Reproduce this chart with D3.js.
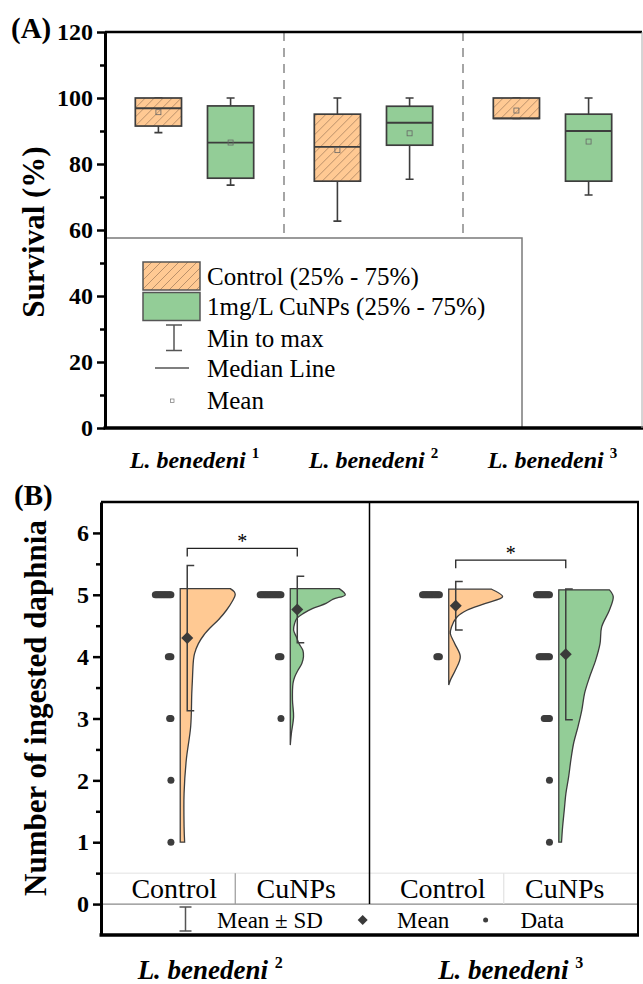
<!DOCTYPE html>
<html>
<head>
<meta charset="utf-8">
<script src="https://cdn.jsdelivr.net/npm/d3@7"></script>
<style>
  body { margin: 0; background: #fff; }
  svg { font-family: "Liberation Serif", "Times New Roman", serif; }
</style>
</head>
<body>
<script>
// ---------- Panel A: survival box plots ----------
var groupsA = ["1", "2", "3"];          // L. benedeni 1..3
var treatA = ["Control", "CuNPs"];

var ctrlMin  = [89.5, 62.7, 93.8];
var ctrlQ1   = [91.5, 74.8, 93.8];
var ctrlMed  = [96.9, 85.2, 93.8];
var ctrlQ3   = [100, 95.1, 100];
var ctrlMax  = [100, 100, 100];
var ctrlMean = [95.7, 84.2, 96.2];

var cuMin  = [73.6, 75.4, 70.6];
var cuQ1   = [75.7, 85.7, 74.8];
var cuMed  = [86.5, 92.5, 90.0];
var cuQ3   = [97.6, 97.5, 95.1];
var cuMax  = [100, 100, 100];
var cuMean = [86.5, 89.3, 86.8];

var ticksA = [0, 20, 40, 60, 80, 100, 120];
var legendA = ["Control (25% - 75%)", "1mg/L CuNPs (25% - 75%)", "Min to max", "Median Line", "Mean"];

// ---------- Panel B: ingested daphnia ----------
var groupsB = ["2", "3"];
var treatB = ["Control", "CuNPs"];
var scoreValues = [5, 4, 3, 2, 1];
// number of fish at each score (5,4,3,2,1)
var ctrl2Counts = [13, 3, 2, 1, 1];
var cu2Counts   = [17, 3, 1, 0, 0];
var ctrl3Counts = [14, 3, 0, 0, 0];
var cu3Counts   = [11, 9, 5, 1, 1];

// half-violin outlines (score level, relative density)
var ctrl2Lv   = [5.1, 5.05, 5.0, 4.9, 4.75, 4.6, 4.48, 4.35, 4.21, 4.05, 3.94, 3.6, 3.41, 2.87, 2.33, 1.79, 1.25, 1.0];
var ctrl2Dens = [0.91, 0.98, 1.0, 0.95, 0.84, 0.7, 0.56, 0.43, 0.33, 0.26, 0.24, 0.22, 0.21, 0.19, 0.11, 0.07, 0.07, 0.08];
var cu2Lv   = [5.1, 5.0, 4.93, 4.86, 4.78, 4.7, 4.62, 4.54, 4.43, 4.32, 4.21, 4.1, 4.0, 3.89, 3.78, 3.67, 3.57, 3.3, 3.03, 2.76, 2.57];
var cu2Dens = [0.89, 1.0, 0.78, 0.65, 0.41, 0.24, 0.12, 0.08, 0.06, 0.11, 0.16, 0.23, 0.24, 0.21, 0.14, 0.08, 0.05, 0.04, 0.06, 0.02, 0.0];
var ctrl3Lv   = [5.09, 4.97, 4.86, 4.75, 4.64, 4.48, 4.37, 4.21, 4.0, 3.78, 3.62, 3.54];
var ctrl3Dens = [0.78, 0.98, 0.67, 0.33, 0.15, 0.05, 0.03, 0.11, 0.21, 0.12, 0.03, 0.0];
var cu3Lv   = [5.08, 4.97, 4.75, 4.48, 4.21, 3.94, 3.67, 3.41, 3.14, 2.87, 2.6, 2.33, 2.06, 1.79, 1.52, 1.25, 1.0];
var cu3Dens = [0.92, 0.99, 0.92, 0.78, 0.75, 0.67, 0.56, 0.47, 0.42, 0.35, 0.27, 0.22, 0.18, 0.13, 0.10, 0.07, 0.05];

var sigLevel = [5.75, 5.56];
var ticksB = [0, 1, 2, 3, 4, 5, 6];

var orange = "#FFC993", green = "#93CD97", edge = "#3d3d3d";

var svg = d3.select("body").append("svg")
  .attr("width", 643)
  .attr("height", 984);

var defs = svg.append("defs");
var pat = defs.append("pattern")
  .attr("id", "hatch")
  .attr("patternUnits", "userSpaceOnUse")
  .attr("width", 9).attr("height", 9);
pat.append("rect").attr("width", 9).attr("height", 9).attr("fill", orange);
pat.append("path")
  .attr("d", "M-1,10 L10,-1 M-5,5 L5,-5 M4,14 L14,4")
  .attr("stroke", "#8c6a4e").attr("stroke-width", 0.8).attr("opacity", 0.75);

// ================= PANEL A =================
var aLeft = 105, aRight = 642, aTop = 32, aBottom = 428;
var yA = d3.scaleLinear().domain([0, 120]).range([aBottom, aTop]);
var xA = d3.scaleBand().domain(groupsA).range([aLeft, aRight]);
var xInA = d3.scaleBand().domain(treatA).range([0, xA.bandwidth()])
  .paddingInner(0.36).paddingOuter(0.42);

var gA = svg.append("g");

// dashed separators
groupsA.slice(1).forEach(function(g) {
  gA.append("line")
    .attr("x1", xA(g)).attr("x2", xA(g))
    .attr("y1", aTop).attr("y2", aBottom)
    .attr("stroke", "#888").attr("stroke-width", 1.5)
    .attr("stroke-dasharray", "9,7");
});

var boxes = [];
groupsA.forEach(function(g, i) {
  boxes.push({g: g, t: "Control", min: ctrlMin[i], q1: ctrlQ1[i], med: ctrlMed[i], q3: ctrlQ3[i], max: ctrlMax[i], mean: ctrlMean[i]});
  boxes.push({g: g, t: "CuNPs", min: cuMin[i], q1: cuQ1[i], med: cuMed[i], q3: cuQ3[i], max: cuMax[i], mean: cuMean[i]});
});

var bw = xInA.bandwidth();
var boxG = gA.selectAll(".box").data(boxes).enter().append("g")
  .attr("class", "box")
  .attr("transform", d => `translate(${xA(d.g) + xInA(d.t)}, 0)`);

// whiskers
boxG.append("path")
  .attr("d", d => `M${bw/2},${yA(d.q3)}V${yA(d.max)}M${bw/2 - 4},${yA(d.max)}H${bw/2 + 4}` +
                  `M${bw/2},${yA(d.q1)}V${yA(d.min)}M${bw/2 - 4},${yA(d.min)}H${bw/2 + 4}`)
  .attr("stroke", edge).attr("stroke-width", 1.6).attr("fill", "none");

boxG.append("rect")
  .attr("x", 0).attr("width", bw)
  .attr("y", d => yA(d.q3))
  .attr("height", d => yA(d.q1) - yA(d.q3))
  .attr("fill", d => d.t == "Control" ? "url(#hatch)" : green)
  .attr("stroke", edge).attr("stroke-width", 1.7);

boxG.append("line")
  .attr("x1", 0).attr("x2", bw)
  .attr("y1", d => yA(d.med)).attr("y2", d => yA(d.med))
  .attr("stroke", edge).attr("stroke-width", 1.8);

boxG.append("rect")
  .attr("x", bw/2 - 2.5).attr("width", 5)
  .attr("y", d => yA(d.mean) - 2.5).attr("height", 5)
  .attr("fill", "none").attr("stroke", "#666").attr("stroke-width", 0.8);

// legend A
var lg = gA.append("g");
lg.append("rect")
  .attr("x", aLeft).attr("y", 238)
  .attr("width", 522 - aLeft).attr("height", aBottom - 238)
  .attr("fill", "#fff").attr("stroke", "#7a7a7a").attr("stroke-width", 1.5);
var legY = [276, 306, 338, 368, 400];
lg.append("rect").attr("x", 143).attr("y", 262).attr("width", 57).attr("height", 28)
  .attr("fill", "url(#hatch)").attr("stroke", "#555").attr("stroke-width", 1.5);
lg.append("rect").attr("x", 143).attr("y", 292.5).attr("width", 57).attr("height", 28)
  .attr("fill", green).attr("stroke", "#555").attr("stroke-width", 1.5);
lg.append("path").attr("d", "M166,325H182M174,325V350.5M166,350.5H182")
  .attr("stroke", "#555").attr("stroke-width", 1.5).attr("fill", "none");
lg.append("line").attr("x1", 155).attr("x2", 189).attr("y1", 368).attr("y2", 368)
  .attr("stroke", "#555").attr("stroke-width", 1.5);
lg.append("rect").attr("x", 170.5).attr("y", 399).attr("width", 3.5).attr("height", 3.5)
  .attr("fill", "none").attr("stroke", "#777").attr("stroke-width", 0.7);
lg.selectAll(".lt").data(legendA).enter().append("text")
  .attr("x", 207).attr("y", (d, i) => legY[i] + 8.5)
  .attr("font-size", 25)
  .text(d => d);

// axis A
var axA = gA.append("g").attr("transform", `translate(${aLeft},0)`)
  .call(d3.axisLeft(yA).tickValues(ticksA).tickSize(8).tickSizeOuter(0).tickPadding(4));
gA.append("g").attr("transform", `translate(${aLeft},0)`)
  .call(d3.axisLeft(yA).tickValues([10, 30, 50, 70, 90, 110]).tickSize(5).tickSizeOuter(0).tickFormat(""))
  .select(".domain").remove();
axA.select(".domain").attr("stroke-width", 3);
axA.selectAll(".tick text").attr("font-size", 24).attr("font-weight", "bold")
  .attr("font-family", "Liberation Serif").attr("fill", "#000");
gA.selectAll(".tick line").attr("stroke-width", 2.5);

// frame A
gA.append("line").attr("x1", aLeft).attr("x2", aRight).attr("y1", aTop).attr("y2", aTop)
  .attr("stroke", "#000").attr("stroke-width", 2.5);
gA.append("line").attr("x1", aLeft - 1.5).attr("x2", 643).attr("y1", aBottom).attr("y2", aBottom)
  .attr("stroke", "#000").attr("stroke-width", 3.5);
gA.append("line").attr("x1", aRight).attr("x2", aRight).attr("y1", aTop).attr("y2", aBottom)
  .attr("stroke", "#aaa").attr("stroke-width", 1);

// category labels A
groupsA.forEach(function(g) {
  var t = gA.append("text")
    .attr("x", xA(g) + xA.bandwidth() / 2).attr("y", 468)
    .attr("text-anchor", "middle")
    .attr("font-size", 24).attr("font-weight", "bold").attr("font-style", "italic");
  t.append("tspan").text("L. benedeni ");
  t.append("tspan").attr("dy", -10).attr("font-size", 15).attr("font-style", "normal").text(g);
});

svg.append("text").attr("x", 11).attr("y", 38)
  .attr("font-size", 29).attr("font-weight", "bold").text("(A)");
svg.append("text")
  .attr("transform", "translate(44,232) rotate(-90)")
  .attr("text-anchor", "middle")
  .attr("font-size", 31).attr("font-weight", "bold")
  .text("Survival (%)");

// ================= PANEL B =================
var bLeft = 101, bRight = 638, bTop = 502, bBottom = 935;
var yB = d3.scaleLinear().domain([-0.5, 6.5]).range([bBottom, bTop]);
var xB = d3.scaleBand().domain(groupsB).range([bLeft, bRight]);
var xInB = d3.scalePoint().domain(treatB).range([0, xB.bandwidth()]).padding(0.72);
var xLabB = d3.scalePoint().domain(treatB).range([0, xB.bandwidth()]).padding(0.6);
var wScale = d3.scaleLinear().domain([0, 1]).range([0, 55]);

var gB = svg.append("g");

// label band lines
gB.append("line").attr("x1", bLeft).attr("x2", bRight).attr("y1", yB(0.5)).attr("y2", yB(0.5))
  .attr("stroke", "#e2e2e2").attr("stroke-width", 1);
gB.append("line").attr("x1", bLeft).attr("x2", bRight).attr("y1", yB(0)).attr("y2", yB(0))
  .attr("stroke", "#8a8a8a").attr("stroke-width", 1.2);
groupsB.forEach(function(g, i) {
  gB.append("line")
    .attr("x1", xB(g) + xB.bandwidth() / 2).attr("x2", xB(g) + xB.bandwidth() / 2)
    .attr("y1", yB(0.5)).attr("y2", yB(0))
    .attr("stroke", i == 0 ? "#999" : "#e2e2e2").attr("stroke-width", 1.2);
  treatB.forEach(function(t) {
    gB.append("text")
      .attr("x", xB(g) + xLabB(t)).attr("y", 898)
      .attr("text-anchor", "middle").attr("font-size", 28)
      .text(t);
  });
});
gB.append("line").attr("x1", xB("3")).attr("x2", xB("3")).attr("y1", bTop).attr("y2", yB(0))
  .attr("stroke", "#000").attr("stroke-width", 1.5);

var violins = [
  {g: "2", t: "Control", counts: ctrl2Counts, lv: ctrl2Lv, dens: ctrl2Dens, fill: orange},
  {g: "2", t: "CuNPs", counts: cu2Counts, lv: cu2Lv, dens: cu2Dens, fill: green},
  {g: "3", t: "Control", counts: ctrl3Counts, lv: ctrl3Lv, dens: ctrl3Dens, fill: orange},
  {g: "3", t: "CuNPs", counts: cu3Counts, lv: cu3Lv, dens: cu3Dens, fill: green}
];

var area = d3.area()
  .curve(d3.curveCatmullRom)
  .y(d => yB(d[0]))
  .x0(0)
  .x1(d => wScale(d[1]));

violins.forEach(function(v) {
  var base = xB(v.g) + xInB(v.t);
  var raw = [];
  scoreValues.forEach(function(s, i) { for (var k = 0; k < v.counts[i]; k++) raw.push(s); });
  v.mean = d3.mean(raw);
  v.sd = d3.deviation(raw);
  v.base = base;

  var vg = gB.append("g").attr("transform", `translate(${base},0)`);
  vg.append("path")
    .attr("d", area(d3.zip(v.lv, v.dens)))
    .attr("fill", v.fill).attr("stroke", edge).attr("stroke-width", 1.3);

  // data points, stacked left of the violin
  scoreValues.forEach(function(s, i) {
    d3.range(v.counts[i]).forEach(function(k) {
      vg.append("circle")
        .attr("cx", -9.3 - k * 1.3).attr("cy", yB(s))
        .attr("r", 3.5).attr("fill", "#3d3d3d");
    });
  });

  // mean +- sd
  vg.append("path")
    .attr("d", `M14,${yB(v.mean + v.sd)}H7V${yB(v.mean - v.sd)}H14`)
    .attr("fill", "none").attr("stroke", edge).attr("stroke-width", 1.5);
  vg.append("path")
    .attr("d", d3.symbol(d3.symbolSquare, 72)())
    .attr("transform", `translate(7,${yB(v.mean)}) rotate(45)`)
    .attr("fill", "#3a3a3a");
});

// significance brackets
groupsB.forEach(function(g, i) {
  var a = violins[i * 2].base + 7, b = violins[i * 2 + 1].base + 7;
  var yy = yB(sigLevel[i]);
  gB.append("path").attr("d", `M${a},${yy + 8}V${yy}H${b}V${yy + 8}`)
    .attr("fill", "none").attr("stroke", "#222").attr("stroke-width", 1.3);
  gB.append("text").attr("x", (a + b) / 2).attr("y", yy - 0.5)
    .attr("text-anchor", "middle").attr("font-size", 20).text("*");
});

// axis B
var axB = gB.append("g").attr("transform", `translate(${bLeft},0)`)
  .call(d3.axisLeft(yB).tickValues(ticksB).tickSize(8).tickSizeOuter(0).tickPadding(4)
    .tickFormat(d3.format("d")));
gB.append("g").attr("transform", `translate(${bLeft},0)`)
  .call(d3.axisLeft(yB).tickValues([0.5, 1.5, 2.5, 3.5, 4.5, 5.5]).tickSize(5).tickSizeOuter(0).tickFormat(""))
  .select(".domain").remove();
axB.select(".domain").attr("stroke-width", 3);
axB.selectAll(".tick text").attr("font-size", 24).attr("font-weight", "bold")
  .attr("font-family", "Liberation Serif").attr("fill", "#000");
gB.selectAll(".tick line").attr("stroke-width", 2.5);

// frame B
gB.append("line").attr("x1", bLeft).attr("x2", bRight + 1).attr("y1", bTop).attr("y2", bTop)
  .attr("stroke", "#000").attr("stroke-width", 2.5);
gB.append("line").attr("x1", bLeft - 1.5).attr("x2", bRight + 1).attr("y1", bBottom).attr("y2", bBottom)
  .attr("stroke", "#000").attr("stroke-width", 3.5);
gB.append("line").attr("x1", bRight).attr("x2", bRight).attr("y1", bTop).attr("y2", bBottom)
  .attr("stroke", "#000").attr("stroke-width", 2);

// legend row B
gB.append("path").attr("d", "M179.5,907H191.5M185.5,907V931M179.5,931H191.5")
  .attr("fill", "none").attr("stroke", "#555").attr("stroke-width", 1.5);
gB.append("text").attr("x", 217).attr("y", 928).attr("font-size", 23).text("Mean \u00b1 SD");
gB.append("path").attr("d", d3.symbol(d3.symbolSquare, 50)())
  .attr("transform", "translate(362.7,920) rotate(45)").attr("fill", "#3a3a3a");
gB.append("text").attr("x", 397).attr("y", 928).attr("font-size", 23).text("Mean");
gB.append("circle").attr("cx", 485.6).attr("cy", 920).attr("r", 2.5).attr("fill", "#3d3d3d");
gB.append("text").attr("x", 520.5).attr("y", 928).attr("font-size", 23).text("Data");

// category labels B
var labShift = [-25, 7];
groupsB.forEach(function(g, i) {
  var t = gB.append("text")
    .attr("x", xB(g) + xB.bandwidth() / 2 + labShift[i]).attr("y", 979)
    .attr("text-anchor", "middle")
    .attr("font-size", 27).attr("font-weight", "bold").attr("font-style", "italic");
  t.append("tspan").text("L. benedeni ");
  t.append("tspan").attr("dy", -11).attr("font-size", 16).attr("font-style", "normal").text(g);
});

svg.append("text").attr("x", 14).attr("y", 505)
  .attr("font-size", 29).attr("font-weight", "bold").text("(B)");
svg.append("text")
  .attr("transform", "translate(46,708) rotate(-90)")
  .attr("text-anchor", "middle")
  .attr("font-size", 31).attr("font-weight", "bold")
  .text("Number of ingested daphnia");
</script>
</body>
</html>
